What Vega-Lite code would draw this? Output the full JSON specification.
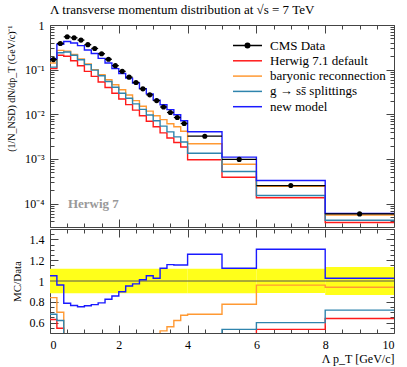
{
  "$schema": "https://vega.github.io/schema/vega-lite/v6.json",
  "padding": {"left": 6, "top": 3, "right": 5, "bottom": 3},
  "spacing": 2,
  "bounds": "flush",
  "config": {
    "view": {"stroke": "#444", "strokeWidth": 1},
    "axis": {"labelFont": "Liberation Serif", "labelFontSize": 12, "titleFont": "Liberation Serif", "titleFontSize": 12, "titleFontWeight": "normal", "domain": false, "grid": false, "tickColor": "#444", "labelColor": "#000", "titleColor": "#000"},
    "legend": {"labelFont": "Liberation Serif"},
    "title": {"font": "Liberation Serif"},
    "text": {"font": "Liberation Serif"}
  },
  "datasets": {
    "hist": [
      {"s": "Herwig 7.1 default", "x": 0, "y": 0.106}, {"s": "Herwig 7.1 default", "x": 0.2, "y": 0.21}, {"s": "Herwig 7.1 default", "x": 0.4, "y": 0.1996}, {"s": "Herwig 7.1 default", "x": 0.6, "y": 0.158}, {"s": "Herwig 7.1 default", "x": 0.8, "y": 0.122}, {"s": "Herwig 7.1 default", "x": 1.0, "y": 0.0916}, {"s": "Herwig 7.1 default", "x": 1.2, "y": 0.0706}, {"s": "Herwig 7.1 default", "x": 1.4, "y": 0.0531}, {"s": "Herwig 7.1 default", "x": 1.6, "y": 0.0398}, {"s": "Herwig 7.1 default", "x": 1.8, "y": 0.0296}, {"s": "Herwig 7.1 default", "x": 2.0, "y": 0.0221}, {"s": "Herwig 7.1 default", "x": 2.2, "y": 0.0165}, {"s": "Herwig 7.1 default", "x": 2.4, "y": 0.0124}, {"s": "Herwig 7.1 default", "x": 2.6, "y": 0.00929}, {"s": "Herwig 7.1 default", "x": 2.8, "y": 0.00698}, {"s": "Herwig 7.1 default", "x": 3.0, "y": 0.00525}, {"s": "Herwig 7.1 default", "x": 3.2, "y": 0.00384}, {"s": "Herwig 7.1 default", "x": 3.4, "y": 0.00296}, {"s": "Herwig 7.1 default", "x": 3.6, "y": 0.00234}, {"s": "Herwig 7.1 default", "x": 3.8, "y": 0.00186}, {"s": "Herwig 7.1 default", "x": 4, "y": 0.00096}, {"s": "Herwig 7.1 default", "x": 5, "y": 0.00039}, {"s": "Herwig 7.1 default", "x": 6, "y": 0.000136}, {"s": "Herwig 7.1 default", "x": 8, "y": 0.0000378}, {"s": "Herwig 7.1 default", "x": 10, "y": 0.0000378},
      {"s": "baryonic reconnection", "x": 0, "y": 0.141}, {"s": "baryonic reconnection", "x": 0.2, "y": 0.27}, {"s": "baryonic reconnection", "x": 0.4, "y": 0.26}, {"s": "baryonic reconnection", "x": 0.6, "y": 0.218}, {"s": "baryonic reconnection", "x": 0.8, "y": 0.1734}, {"s": "baryonic reconnection", "x": 1.0, "y": 0.135}, {"s": "baryonic reconnection", "x": 1.2, "y": 0.1}, {"s": "baryonic reconnection", "x": 1.4, "y": 0.077}, {"s": "baryonic reconnection", "x": 1.6, "y": 0.0594}, {"s": "baryonic reconnection", "x": 1.8, "y": 0.0458}, {"s": "baryonic reconnection", "x": 2.0, "y": 0.0354}, {"s": "baryonic reconnection", "x": 2.2, "y": 0.027}, {"s": "baryonic reconnection", "x": 2.4, "y": 0.0203}, {"s": "baryonic reconnection", "x": 2.6, "y": 0.0152}, {"s": "baryonic reconnection", "x": 2.8, "y": 0.0118}, {"s": "baryonic reconnection", "x": 3.0, "y": 0.0093}, {"s": "baryonic reconnection", "x": 3.2, "y": 0.0076}, {"s": "baryonic reconnection", "x": 3.4, "y": 0.00616}, {"s": "baryonic reconnection", "x": 3.6, "y": 0.00525}, {"s": "baryonic reconnection", "x": 3.8, "y": 0.00417}, {"s": "baryonic reconnection", "x": 4, "y": 0.0022}, {"s": "baryonic reconnection", "x": 5, "y": 0.00076}, {"s": "baryonic reconnection", "x": 6, "y": 0.000244}, {"s": "baryonic reconnection", "x": 8, "y": 0.0000555}, {"s": "baryonic reconnection", "x": 10, "y": 0.0000555},
      {"s": "g → ss̄ splittings", "x": 0, "y": 0.114}, {"s": "g → ss̄ splittings", "x": 0.2, "y": 0.239}, {"s": "g → ss̄ splittings", "x": 0.4, "y": 0.2495}, {"s": "g → ss̄ splittings", "x": 0.6, "y": 0.21}, {"s": "g → ss̄ splittings", "x": 0.8, "y": 0.1665}, {"s": "g → ss̄ splittings", "x": 1.0, "y": 0.1297}, {"s": "g → ss̄ splittings", "x": 1.2, "y": 0.0975}, {"s": "g → ss̄ splittings", "x": 1.4, "y": 0.0732}, {"s": "g → ss̄ splittings", "x": 1.6, "y": 0.0545}, {"s": "g → ss̄ splittings", "x": 1.8, "y": 0.0405}, {"s": "g → ss̄ splittings", "x": 2.0, "y": 0.0296}, {"s": "g → ss̄ splittings", "x": 2.2, "y": 0.0229}, {"s": "g → ss̄ splittings", "x": 2.4, "y": 0.0171}, {"s": "g → ss̄ splittings", "x": 2.6, "y": 0.0129}, {"s": "g → ss̄ splittings", "x": 2.8, "y": 0.00964}, {"s": "g → ss̄ splittings", "x": 3.0, "y": 0.00717}, {"s": "g → ss̄ splittings", "x": 3.2, "y": 0.00544}, {"s": "g → ss̄ splittings", "x": 3.4, "y": 0.00405}, {"s": "g → ss̄ splittings", "x": 3.6, "y": 0.00312}, {"s": "g → ss̄ splittings", "x": 3.8, "y": 0.0024}, {"s": "g → ss̄ splittings", "x": 4, "y": 0.00134}, {"s": "g → ss̄ splittings", "x": 5, "y": 0.000524}, {"s": "g → ss̄ splittings", "x": 6, "y": 0.000152}, {"s": "g → ss̄ splittings", "x": 8, "y": 0.0000425}, {"s": "g → ss̄ splittings", "x": 10, "y": 0.0000425},
      {"s": "new model", "x": 0, "y": 0.1766}, {"s": "new model", "x": 0.2, "y": 0.3713}, {"s": "new model", "x": 0.4, "y": 0.4276}, {"s": "new model", "x": 0.6, "y": 0.3955}, {"s": "new model", "x": 0.8, "y": 0.3456}, {"s": "new model", "x": 1.0, "y": 0.2766}, {"s": "new model", "x": 1.2, "y": 0.2304}, {"s": "new model", "x": 1.4, "y": 0.1793}, {"s": "new model", "x": 1.6, "y": 0.1411}, {"s": "new model", "x": 1.8, "y": 0.1053}, {"s": "new model", "x": 2.0, "y": 0.0822}, {"s": "new model", "x": 2.2, "y": 0.0647}, {"s": "new model", "x": 2.4, "y": 0.0503}, {"s": "new model", "x": 2.6, "y": 0.03765}, {"s": "new model", "x": 2.8, "y": 0.02869}, {"s": "new model", "x": 3.0, "y": 0.02083}, {"s": "new model", "x": 3.2, "y": 0.01638}, {"s": "new model", "x": 3.4, "y": 0.01273}, {"s": "new model", "x": 3.6, "y": 0.00977}, {"s": "new model", "x": 3.8, "y": 0.00719}, {"s": "new model", "x": 4, "y": 0.00407}, {"s": "new model", "x": 5, "y": 0.0011}, {"s": "new model", "x": 6, "y": 0.000331}, {"s": "new model", "x": 8, "y": 0.0000605}, {"s": "new model", "x": 10, "y": 0.0000605}
    ],
    "ratio": [
      {"s": "Herwig 7.1 default", "x": 0, "r": 0.63}, {"s": "Herwig 7.1 default", "x": 0.2, "r": 0.545}, {"s": "Herwig 7.1 default", "x": 0.4, "r": 0.367}, {"s": "Herwig 7.1 default", "x": 0.6, "r": 0.306}, {"s": "Herwig 7.1 default", "x": 0.8, "r": 0.266}, {"s": "Herwig 7.1 default", "x": 1.0, "r": 0.252}, {"s": "Herwig 7.1 default", "x": 1.2, "r": 0.237}, {"s": "Herwig 7.1 default", "x": 1.4, "r": 0.234}, {"s": "Herwig 7.1 default", "x": 1.6, "r": 0.233}, {"s": "Herwig 7.1 default", "x": 1.8, "r": 0.241}, {"s": "Herwig 7.1 default", "x": 2.0, "r": 0.241}, {"s": "Herwig 7.1 default", "x": 2.2, "r": 0.243}, {"s": "Herwig 7.1 default", "x": 2.4, "r": 0.24}, {"s": "Herwig 7.1 default", "x": 2.6, "r": 0.25}, {"s": "Herwig 7.1 default", "x": 2.8, "r": 0.256}, {"s": "Herwig 7.1 default", "x": 3.0, "r": 0.259}, {"s": "Herwig 7.1 default", "x": 3.2, "r": 0.263}, {"s": "Herwig 7.1 default", "x": 3.4, "r": 0.269}, {"s": "Herwig 7.1 default", "x": 3.6, "r": 0.276}, {"s": "Herwig 7.1 default", "x": 3.8, "r": 0.299}, {"s": "Herwig 7.1 default", "x": 4, "r": 0.296}, {"s": "Herwig 7.1 default", "x": 5, "r": 0.398}, {"s": "Herwig 7.1 default", "x": 6, "r": 0.535}, {"s": "Herwig 7.1 default", "x": 8, "r": 0.64}, {"s": "Herwig 7.1 default", "x": 10, "r": 0.64},
      {"s": "baryonic reconnection", "x": 0, "r": 0.84}, {"s": "baryonic reconnection", "x": 0.2, "r": 0.7}, {"s": "baryonic reconnection", "x": 0.4, "r": 0.478}, {"s": "baryonic reconnection", "x": 0.6, "r": 0.422}, {"s": "baryonic reconnection", "x": 0.8, "r": 0.378}, {"s": "baryonic reconnection", "x": 1.0, "r": 0.372}, {"s": "baryonic reconnection", "x": 1.2, "r": 0.336}, {"s": "baryonic reconnection", "x": 1.4, "r": 0.339}, {"s": "baryonic reconnection", "x": 1.6, "r": 0.347}, {"s": "baryonic reconnection", "x": 1.8, "r": 0.372}, {"s": "baryonic reconnection", "x": 2.0, "r": 0.386}, {"s": "baryonic reconnection", "x": 2.2, "r": 0.397}, {"s": "baryonic reconnection", "x": 2.4, "r": 0.393}, {"s": "baryonic reconnection", "x": 2.6, "r": 0.409}, {"s": "baryonic reconnection", "x": 2.8, "r": 0.432}, {"s": "baryonic reconnection", "x": 3.0, "r": 0.458}, {"s": "baryonic reconnection", "x": 3.2, "r": 0.52}, {"s": "baryonic reconnection", "x": 3.4, "r": 0.56}, {"s": "baryonic reconnection", "x": 3.6, "r": 0.62}, {"s": "baryonic reconnection", "x": 3.8, "r": 0.67}, {"s": "baryonic reconnection", "x": 4, "r": 0.68}, {"s": "baryonic reconnection", "x": 5, "r": 0.776}, {"s": "baryonic reconnection", "x": 6, "r": 0.96}, {"s": "baryonic reconnection", "x": 8, "r": 0.94}, {"s": "baryonic reconnection", "x": 10, "r": 0.94},
      {"s": "g → ss̄ splittings", "x": 0, "r": 0.68}, {"s": "g → ss̄ splittings", "x": 0.2, "r": 0.62}, {"s": "g → ss̄ splittings", "x": 0.4, "r": 0.459}, {"s": "g → ss̄ splittings", "x": 0.6, "r": 0.406}, {"s": "g → ss̄ splittings", "x": 0.8, "r": 0.363}, {"s": "g → ss̄ splittings", "x": 1.0, "r": 0.357}, {"s": "g → ss̄ splittings", "x": 1.2, "r": 0.327}, {"s": "g → ss̄ splittings", "x": 1.4, "r": 0.322}, {"s": "g → ss̄ splittings", "x": 1.6, "r": 0.319}, {"s": "g → ss̄ splittings", "x": 1.8, "r": 0.329}, {"s": "g → ss̄ splittings", "x": 2.0, "r": 0.323}, {"s": "g → ss̄ splittings", "x": 2.2, "r": 0.337}, {"s": "g → ss̄ splittings", "x": 2.4, "r": 0.331}, {"s": "g → ss̄ splittings", "x": 2.6, "r": 0.347}, {"s": "g → ss̄ splittings", "x": 2.8, "r": 0.353}, {"s": "g → ss̄ splittings", "x": 3.0, "r": 0.353}, {"s": "g → ss̄ splittings", "x": 3.2, "r": 0.373}, {"s": "g → ss̄ splittings", "x": 3.4, "r": 0.368}, {"s": "g → ss̄ splittings", "x": 3.6, "r": 0.368}, {"s": "g → ss̄ splittings", "x": 3.8, "r": 0.385}, {"s": "g → ss̄ splittings", "x": 4, "r": 0.414}, {"s": "g → ss̄ splittings", "x": 5, "r": 0.535}, {"s": "g → ss̄ splittings", "x": 6, "r": 0.6}, {"s": "g → ss̄ splittings", "x": 8, "r": 0.72}, {"s": "g → ss̄ splittings", "x": 10, "r": 0.72},
      {"s": "new model", "x": 0, "r": 1.051}, {"s": "new model", "x": 0.2, "r": 0.962}, {"s": "new model", "x": 0.4, "r": 0.786}, {"s": "new model", "x": 0.6, "r": 0.765}, {"s": "new model", "x": 0.8, "r": 0.753}, {"s": "new model", "x": 1.0, "r": 0.762}, {"s": "new model", "x": 1.2, "r": 0.773}, {"s": "new model", "x": 1.4, "r": 0.79}, {"s": "new model", "x": 1.6, "r": 0.825}, {"s": "new model", "x": 1.8, "r": 0.856}, {"s": "new model", "x": 2.0, "r": 0.897}, {"s": "new model", "x": 2.2, "r": 0.952}, {"s": "new model", "x": 2.4, "r": 0.972}, {"s": "new model", "x": 2.6, "r": 1.012}, {"s": "new model", "x": 2.8, "r": 1.051}, {"s": "new model", "x": 3.0, "r": 1.026}, {"s": "new model", "x": 3.2, "r": 1.122}, {"s": "new model", "x": 3.4, "r": 1.157}, {"s": "new model", "x": 3.6, "r": 1.154}, {"s": "new model", "x": 3.8, "r": 1.154}, {"s": "new model", "x": 4, "r": 1.257}, {"s": "new model", "x": 5, "r": 1.122}, {"s": "new model", "x": 6, "r": 1.305}, {"s": "new model", "x": 8, "r": 1.026}, {"s": "new model", "x": 10, "r": 1.026}
    ],
    "pts": [
      {"x0": 0, "x1": 0.2, "xc": 0.1, "y": 0.168}, {"x0": 0.2, "x1": 0.4, "xc": 0.3, "y": 0.386}, {"x0": 0.4, "x1": 0.6, "xc": 0.5, "y": 0.544}, {"x0": 0.6, "x1": 0.8, "xc": 0.7, "y": 0.517}, {"x0": 0.8, "x1": 1.0, "xc": 0.9, "y": 0.459}, {"x0": 1.0, "x1": 1.2, "xc": 1.1, "y": 0.363}, {"x0": 1.2, "x1": 1.4, "xc": 1.3, "y": 0.298}, {"x0": 1.4, "x1": 1.6, "xc": 1.5, "y": 0.227}, {"x0": 1.6, "x1": 1.8, "xc": 1.7, "y": 0.171}, {"x0": 1.8, "x1": 2.0, "xc": 1.9, "y": 0.123}, {"x0": 2.0, "x1": 2.2, "xc": 2.1, "y": 0.0916}, {"x0": 2.2, "x1": 2.4, "xc": 2.3, "y": 0.068}, {"x0": 2.4, "x1": 2.6, "xc": 2.5, "y": 0.0517}, {"x0": 2.6, "x1": 2.8, "xc": 2.7, "y": 0.0372}, {"x0": 2.8, "x1": 3.0, "xc": 2.9, "y": 0.0273}, {"x0": 3.0, "x1": 3.2, "xc": 3.1, "y": 0.0203}, {"x0": 3.2, "x1": 3.4, "xc": 3.3, "y": 0.0146}, {"x0": 3.4, "x1": 3.6, "xc": 3.5, "y": 0.011}, {"x0": 3.6, "x1": 3.8, "xc": 3.7, "y": 0.00847}, {"x0": 3.8, "x1": 4.0, "xc": 3.9, "y": 0.00623}, {"x0": 4, "x1": 5, "xc": 4.5, "y": 0.00324}, {"x0": 5, "x1": 6, "xc": 5.5, "y": 0.00098}, {"x0": 6, "x1": 8, "xc": 7, "y": 0.000254}, {"x0": 8, "x1": 10, "xc": 9, "y": 0.000059}
    ],
    "band": [
      {"x0": 0, "x1": 4, "lo": 0.883, "hi": 1.117}, {"x0": 4, "x1": 5, "lo": 0.883, "hi": 1.117}, {"x0": 5, "x1": 6, "lo": 0.883, "hi": 1.117}, {"x0": 6, "x1": 8, "lo": 0.885, "hi": 1.118}, {"x0": 8, "x1": 10, "lo": 0.866, "hi": 1.134}
    ]
  },
  "vconcat": [
    {
      "width": 344,
      "height": 202,
      "title": {"text": "Λ transverse momentum distribution at √s = 7 TeV", "anchor": "start", "frame": "group", "font": "Liberation Serif", "fontSize": 13, "fontWeight": "normal", "offset": 2},
      "resolve": {"axis": {"x": "independent", "y": "independent"}},
      "layer": [
        {
          "data": {"name": "hist"},
          "mark": {"type": "line", "interpolate": "step-after", "strokeWidth": 1.4, "clip": true},
          "encoding": {
            "x": {"field": "x", "type": "quantitative", "scale": {"domain": [0, 10], "nice": false, "zero": false}, "axis": {"orient": "bottom", "values": [0, 2, 4, 6, 8, 10], "labels": false, "tickSize": -8, "title": null}},
            "y": {"field": "y", "type": "quantitative", "scale": {"type": "log", "domain": [0.00003, 1], "nice": false}, "axis": {"orient": "left", "values": [0.0001, 0.001, 0.01, 0.1, 1], "tickSize": -8, "labelPadding": 14, "labelExpr": "datum.value >= 0.5 ? '1' : '10' + (datum.value > 0.05 ? '⁻¹' : datum.value > 0.005 ? '⁻²' : datum.value > 0.0005 ? '⁻³' : '⁻⁴')", "title": "(1/N_NSD) dN/dp_T (GeV/c)⁻¹", "titleAnchor": "end", "titlePadding": 7, "titleFontSize": 10}},
            "color": {"field": "s", "type": "nominal",
              "scale": {"domain": ["CMS Data", "Herwig 7.1 default", "baryonic reconnection", "g → ss̄ splittings", "new model"], "range": ["#000000", "#ff1a1a", "#ff9933", "#2f84ad", "#1a1aff"]},
              "legend": {"orient": "none", "legendX": 191, "legendY": 14, "title": null, "symbolType": "M-2.9,0H2.9", "symbolSize": 100, "symbolStrokeWidth": 1.5, "labelOffset": 16, "labelFont": "Liberation Serif", "labelFontSize": 13, "rowPadding": 1.3, "padding": 0, "labelLimit": 300,
                "encode": {"symbols": {"update": {
                  "shape": {"signal": "datum.value === 'CMS Data' ? 'M-2.9,0H2.9M-0.45,0A0.45,0.45,0,1,1,0.45,0A0.45,0.45,0,1,1,-0.45,0Z' : 'M-2.9,0H2.9'"},
                  "fill": {"signal": "datum.value === 'CMS Data' ? '#000' : 'transparent'"},
                  "stroke": {"scale": "color", "field": "value"}
                }}}}
            }
          }
        },
        {
          "data": {"name": "pts"},
          "mark": {"type": "rule", "color": "#000", "strokeWidth": 1.3},
          "encoding": {
            "x": {"field": "x0", "type": "quantitative", "axis": {"orient": "bottom", "values": [0.5, 1, 1.5, 2.5, 3, 3.5, 4.5, 5, 5.5, 6.5, 7, 7.5, 8.5, 9, 9.5], "labels": false, "tickSize": -4, "title": null}},
            "x2": {"field": "x1"},
            "y": {"field": "y", "type": "quantitative", "axis": {"orient": "left", "values": [0.00004, 0.00005, 0.00006, 0.00007, 0.00008, 0.00009, 0.0002, 0.0003, 0.0004, 0.0005, 0.0006, 0.0007, 0.0008, 0.0009, 0.002, 0.003, 0.004, 0.005, 0.006, 0.007, 0.008, 0.009, 0.02, 0.03, 0.04, 0.05, 0.06, 0.07, 0.08, 0.09, 0.2, 0.3, 0.4, 0.5, 0.6, 0.7, 0.8, 0.9], "labels": false, "tickSize": -4, "title": null}}
          }
        },
        {
          "data": {"name": "pts"},
          "mark": {"type": "circle", "color": "#000", "size": 26, "opacity": 1},
          "encoding": {
            "x": {"field": "xc", "type": "quantitative", "axis": {"orient": "top", "values": [0, 2, 4, 6, 8, 10], "labels": false, "tickSize": -8, "title": null}},
            "y": {"field": "y", "type": "quantitative", "axis": {"orient": "right", "values": [0.0001, 0.001, 0.01, 0.1, 1], "labels": false, "tickSize": -8, "title": null}}
          }
        },
        {
          "data": {"values": [{}]},
          "mark": {"type": "text", "text": "Herwig 7", "align": "left", "baseline": "middle", "font": "Liberation Serif", "fontSize": 13, "fontWeight": "bold", "color": "#999"},
          "encoding": {
            "x": {"datum": 0.52, "type": "quantitative", "axis": {"orient": "top", "values": [0.5, 1, 1.5, 2.5, 3, 3.5, 4.5, 5, 5.5, 6.5, 7, 7.5, 8.5, 9, 9.5], "labels": false, "tickSize": -4, "title": null}},
            "y": {"datum": 0.0001, "type": "quantitative", "axis": {"orient": "right", "values": [0.00004, 0.00005, 0.00006, 0.00007, 0.00008, 0.00009, 0.0002, 0.0003, 0.0004, 0.0005, 0.0006, 0.0007, 0.0008, 0.0009, 0.002, 0.003, 0.004, 0.005, 0.006, 0.007, 0.008, 0.009, 0.02, 0.03, 0.04, 0.05, 0.06, 0.07, 0.08, 0.09, 0.2, 0.3, 0.4, 0.5, 0.6, 0.7, 0.8, 0.9], "labels": false, "tickSize": -4, "title": null}}
          }
        }
      ]
    },
    {
      "width": 344,
      "height": 104,
      "resolve": {"axis": {"x": "independent", "y": "independent"}},
      "layer": [
        {
          "data": {"name": "band"},
          "mark": {"type": "rect", "color": "#ffff1a"},
          "encoding": {
            "x": {"field": "x0", "type": "quantitative", "scale": {"domain": [0, 10], "nice": false, "zero": false}, "axis": {"orient": "bottom", "values": [0, 2, 4, 6, 8, 10], "tickSize": -8, "labelPadding": 14, "title": "Λ p_T [GeV/c]", "titleAnchor": "end", "titlePadding": 3}},
            "x2": {"field": "x1"},
            "y": {"field": "lo", "type": "quantitative", "scale": {"domain": [0.5, 1.5], "nice": false, "zero": false}, "axis": {"orient": "left", "values": [0.6, 0.8, 1, 1.2, 1.4], "format": ".1~f", "tickSize": -8, "labelPadding": 14, "title": "MC/Data", "titlePadding": 7, "titleFontSize": 11}},
            "y2": {"field": "hi"}
          }
        },
        {
          "data": {"values": [{}]},
          "mark": {"type": "rule", "color": "#555", "strokeWidth": 1},
          "encoding": {
            "y": {"datum": 1, "type": "quantitative", "axis": {"orient": "left", "values": [0.55, 0.65, 0.7, 0.75, 0.85, 0.9, 0.95, 1.05, 1.1, 1.15, 1.25, 1.3, 1.35, 1.45], "labels": false, "tickSize": -4, "title": null}}
          }
        },
        {
          "data": {"name": "ratio"},
          "mark": {"type": "line", "interpolate": "step-after", "strokeWidth": 1.4, "clip": true},
          "encoding": {
            "x": {"field": "x", "type": "quantitative", "axis": {"orient": "bottom", "values": [0.5, 1, 1.5, 2.5, 3, 3.5, 4.5, 5, 5.5, 6.5, 7, 7.5, 8.5, 9, 9.5], "labels": false, "tickSize": -4, "title": null}},
            "y": {"field": "r", "type": "quantitative", "axis": {"orient": "right", "values": [0.6, 0.8, 1, 1.2, 1.4], "labels": false, "tickSize": -8, "title": null}},
            "color": {"field": "s", "type": "nominal", "scale": {"domain": ["CMS Data", "Herwig 7.1 default", "baryonic reconnection", "g → ss̄ splittings", "new model"], "range": ["#000000", "#ff1a1a", "#ff9933", "#2f84ad", "#1a1aff"]}, "legend": null}
          }
        },
        {
          "data": {"name": "band"},
          "mark": {"type": "rect", "opacity": 0},
          "encoding": {
            "x": {"field": "x0", "type": "quantitative", "axis": {"orient": "top", "values": [0, 2, 4, 6, 8, 10], "labels": false, "tickSize": -8, "title": null}},
            "x2": {"field": "x1"},
            "y": {"field": "lo", "type": "quantitative", "axis": {"orient": "right", "values": [0.55, 0.65, 0.7, 0.75, 0.85, 0.9, 0.95, 1.05, 1.1, 1.15, 1.25, 1.3, 1.35, 1.45], "labels": false, "tickSize": -4, "title": null}},
            "y2": {"field": "hi"}
          }
        },
        {
          "data": {"name": "band"},
          "mark": {"type": "rect", "opacity": 0},
          "encoding": {
            "x": {"field": "x0", "type": "quantitative", "axis": {"orient": "top", "values": [0.5, 1, 1.5, 2.5, 3, 3.5, 4.5, 5, 5.5, 6.5, 7, 7.5, 8.5, 9, 9.5], "labels": false, "tickSize": -4, "title": null}},
            "x2": {"field": "x1"},
            "y": {"field": "lo", "type": "quantitative", "axis": null},
            "y2": {"field": "hi"}
          }
        }
      ]
    }
  ]
}
